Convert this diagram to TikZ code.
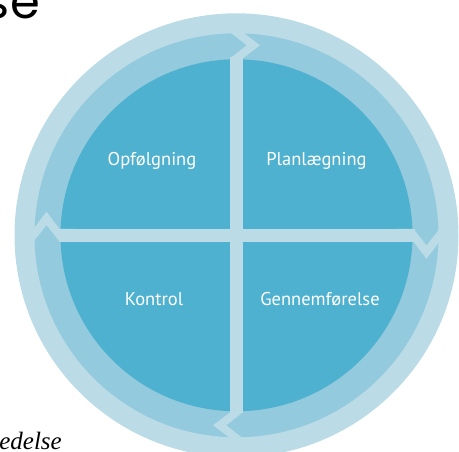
\documentclass[tikz,border=0pt]{standalone}
\usepackage{fontspec}
\usetikzlibrary{calc}
\setmainfont{PT Sans}
\newfontfamily\titlefont{Poppins}
\newfontfamily\serifit{Liberation Serif}
\definecolor{ringout}{HTML}{BBDCE6}
\definecolor{ringmid}{HTML}{94CADD}
\definecolor{core}{HTML}{4EB1CF}
\tikzset{
  lbl/.style={text=white, font=\fontsize{18.5}{20}\selectfont, anchor=base, inner sep=0pt},
  chev/.style={fill=ringout, draw=none},
}
\begin{document}
\begin{tikzpicture}[x=1pt,y=1pt]
\useasboundingbox (0,0) rectangle (459,452);
\clip (0,0) rectangle (459,452);
\coordinate (C) at (236.5,216.7);
% rings
\fill[ringout] (C) circle (222);
\fill[ringmid] (C) circle (202);
\fill[core] (C) circle (176);
% cross gaps
\fill[ringout] ($(C)+(-6.3,-178)$) rectangle ($(C)+(6.3,178)$);
\fill[ringout] ($(C)+(-178,-6.3)$) rectangle ($(C)+(178,6.3)$);
% chevrons (clockwise)
\foreach \a in {0,-90,-180,-270}{
  \fill[chev, shift={(C)}, rotate=\a]
    (-6.3,160) -- (-6.3,177) -- (10.2,190) -- (-6.3,203) -- (-6.3,212)
    -- (6.3,212) -- (6.3,203) -- (23.5,190) -- (6.3,177) -- (6.3,160) -- cycle;
}
% labels
\node[lbl] (opf) at (152,286) {Opfølgning};
\node[lbl] (plan) at (316.5,286) {Planlægning};
\node[lbl] (kon) at (154,146.3) {Kontrol};
\node[lbl] (gen) at (320,146.3) {Gennemførelse};
% cropped surrounding texts
\node[anchor=base east, inner sep=0pt, font=\titlefont\fontsize{48}{50}\selectfont] (title) at (40,433) {se};
\node[anchor=base east, inner sep=0pt, font=\serifit\itshape\fontsize{25}{27}\selectfont] (caption) at (62,2.5) {edelse};
\end{tikzpicture}
\end{document}
